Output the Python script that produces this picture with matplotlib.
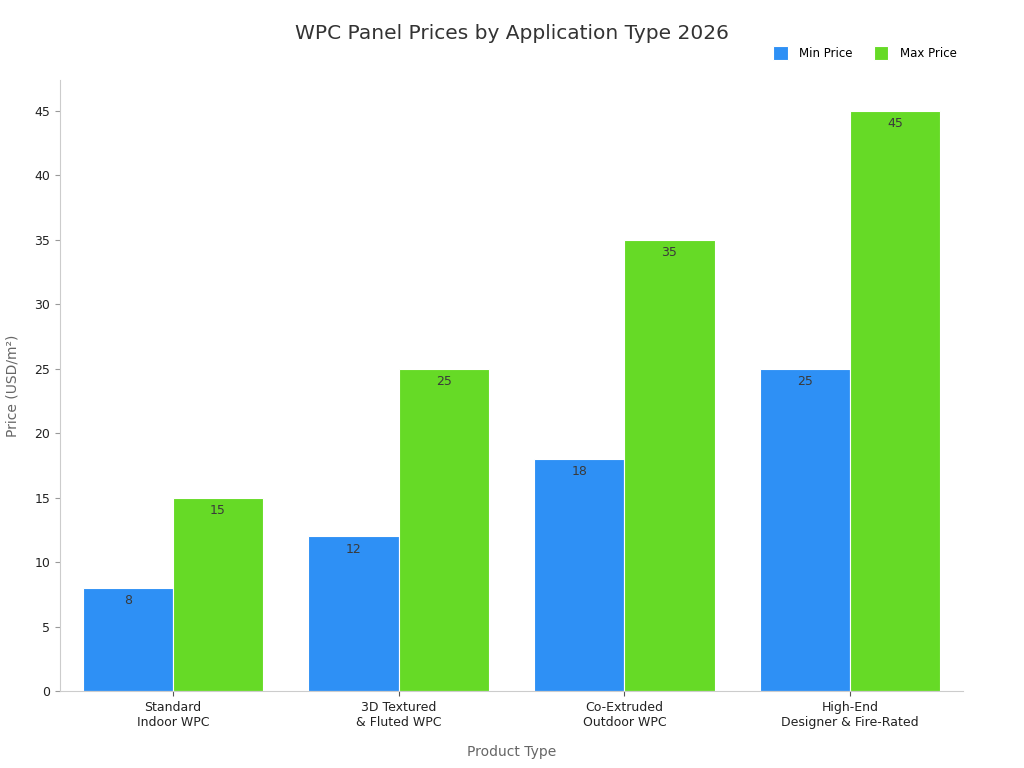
import numpy as np
import matplotlib.pyplot as plt

# chart data
categories = ['Standard\nIndoor WPC', '3D Textured\n& Fluted WPC',
              'Co-Extruded\nOutdoor WPC', 'High-End\nDesigner & Fire-Rated']
min_price = [8, 12, 18, 25]
max_price = [15, 25, 35, 45]

x = np.arange(len(categories))
w = 0.4

fig = plt.figure(figsize=(10.24, 7.68), dpi=100)
ax = fig.add_axes([0.0586, 0.1003, 0.8818, 0.7957])

b1 = ax.bar(x - w / 2, min_price, w, color='#2E90F5', edgecolor='white', linewidth=0.8, label='Min Price')
b2 = ax.bar(x + w / 2, max_price, w, color='#66DA26', edgecolor='white', linewidth=0.8, label='Max Price')

for bars in (b1, b2):
    ax.bar_label(bars, padding=-14, fontsize=9, color='#3a3a3a')

ax.set_xlim(-0.5, 3.5)
ax.set_ylim(0, 47.4)
ax.set_yticks(np.arange(0, 50, 5))
ax.set_xticks(x)
ax.set_xticklabels(categories, fontsize=9, color='#222222')
ax.tick_params(axis='y', labelsize=9, labelcolor='#222222', color='#999999')
ax.tick_params(axis='x', color='#555555')

for s in ['top', 'right']:
    ax.spines[s].set_visible(False)
for s in ['left', 'bottom']:
    ax.spines[s].set_color('#cccccc')

ax.set_xlabel('Product Type', fontsize=10, color='#666666', labelpad=12)
ax.set_ylabel('Price (USD/m²)', fontsize=10, color='#666666', labelpad=11)

fig.suptitle('WPC Panel Prices by Application Type 2026', fontsize=14.5, color='#333333', y=0.969)
fig.legend(handles=[b1, b2], loc='center right', bbox_to_anchor=(0.945, 0.931), ncol=2, frameon=False,
           fontsize=8.5, handlelength=1.2, handleheight=1.5, handletextpad=1.0, columnspacing=1.8)

fig.savefig('out.png', dpi=100)
